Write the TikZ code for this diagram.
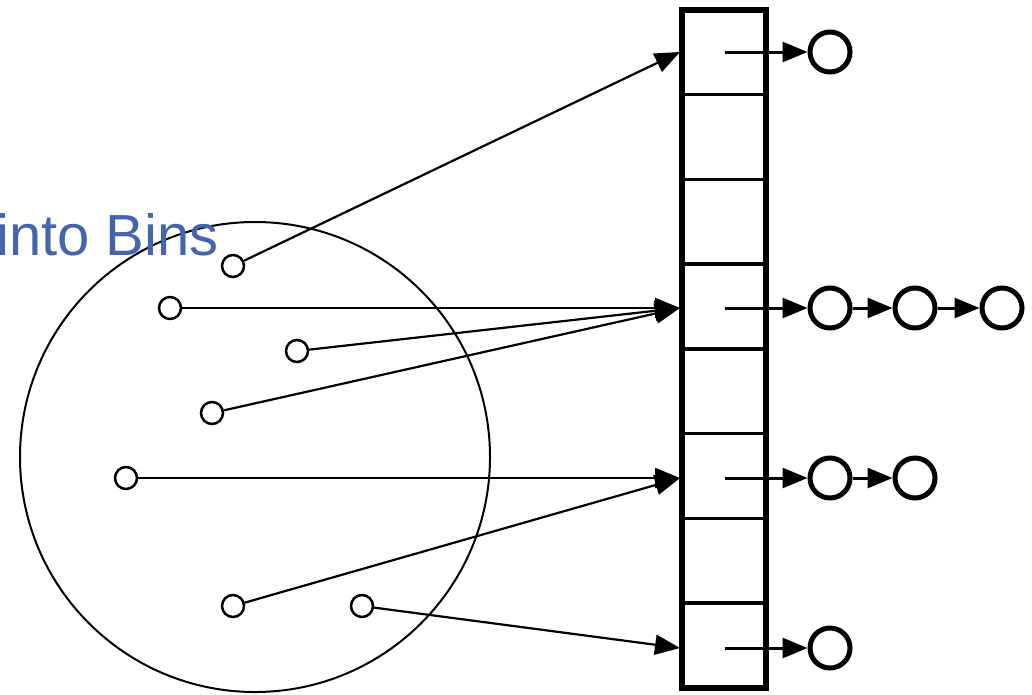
\documentclass[tikz,border=0pt]{standalone}
\usepackage{fontspec}
\newfontfamily\labelfont{Liberation Sans}
\usetikzlibrary{arrows.meta}
\definecolor{binblue}{RGB}{70,100,170}
\begin{document}
\begin{tikzpicture}[x=1pt,y=-1pt,>={Triangle[length=25pt,width=20pt]},
    item/.style={circle,draw,line width=2.5pt,inner sep=0pt,minimum size=22pt},
    entry/.style={circle,draw,line width=5pt,inner sep=0pt,minimum size=40pt},
    link/.style={->,line width=2.2pt},
    chain/.style={->,line width=3pt}]
    \clip (0,0) rectangle (1032,694);
    % ---- set of items ----
    \draw[line width=2pt] (255,457) circle[radius=235];
    \node[anchor=base east,inner sep=0pt,text=binblue,
      font=\labelfont\fontsize{58}{60}\selectfont] (title) at (219,255) {into Bins};
    \node[item] (p1) at (233,266) {};
    \node[item] (p2) at (170,308) {};
    \node[item] (p3) at (297,351) {};
    \node[item] (p4) at (212,413) {};
    \node[item] (p5) at (126,478) {};
    \node[item] (p6) at (233,606) {};
    \node[item] (p7) at (362,606) {};
    % ---- bin array ----
    \foreach \y in {94.5,179.3,264.1,348.9,433.6,518.4,603.2}
      \draw[line width=3.5pt] (682,\y) -- (766,\y);
    \draw[line width=6pt] (682,9.5) rectangle (766,688);
    \coordinate (b0) at (680,52);
    \coordinate (b3) at (680,308);
    \coordinate (b5) at (680,478);
    \coordinate (b7) at (680,648);
    \coordinate (s0) at (725,52);
    \coordinate (s3) at (725,308);
    \coordinate (s5) at (725,478);
    \coordinate (s7) at (725,648);
    % ---- chains ----
    \node[entry] (c0) at (830,52) {};
    \node[entry] (c3a) at (830,308) {};
    \node[entry] (c3b) at (915,308) {};
    \node[entry] (c3c) at (1002,308) {};
    \node[entry] (c5a) at (830,478) {};
    \node[entry] (c5b) at (915,478) {};
    \node[entry] (c7) at (830,648) {};
    \draw[chain] (s0) -- (c0);
    \draw[chain] (s3) -- (c3a);
    \draw[chain] (c3a) -- (c3b);
    \draw[chain] (c3b) -- (c3c);
    \draw[chain] (s5) -- (c5a);
    \draw[chain] (c5a) -- (c5b);
    \draw[chain] (s7) -- (c7);
    % ---- hashing ----
    \draw[link] (p1) -- (b0);
    \draw[link] (p2) -- (b3);
    \draw[link] (p3) -- (b3);
    \draw[link] (p4) -- (b3);
    \draw[link] (p5) -- (b5);
    \draw[link] (p6) -- (b5);
    \draw[link] (p7) -- (b7);
\end{tikzpicture}
\end{document}
